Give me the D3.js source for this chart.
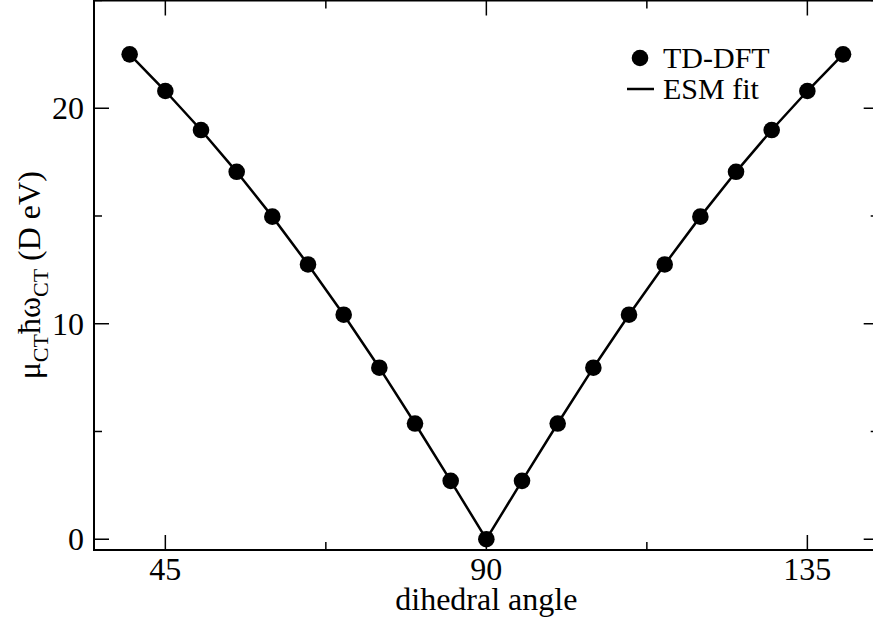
<!DOCTYPE html>
<html>
<head>
<meta charset="utf-8">
<script src="https://cdn.jsdelivr.net/npm/d3@7"></script>
<style>
  html, body { margin: 0; padding: 0; background: #fff; overflow: hidden; }
  svg { display: block; font-family: "Liberation Serif", "Times New Roman", serif; }
</style>
</head>
<body>
<div id="chart"></div>
<script>
// data
const angles = [40, 45, 50, 55, 60, 65, 70, 75, 80, 85, 90,
                95, 100, 105, 110, 115, 120, 125, 130, 135, 140];
const tddft = [22.50, 20.80, 18.99, 17.05, 14.97, 12.75, 10.42, 7.96, 5.37, 2.71, 0,
               2.71, 5.37, 7.96, 10.42, 12.75, 14.97, 17.05, 18.99, 20.80, 22.50];
const esmFit = [22.50, 20.80, 18.99, 17.05, 14.97, 12.75, 10.42, 7.96, 5.37, 2.71, 0,
                2.71, 5.37, 7.96, 10.42, 12.75, 14.97, 17.05, 18.99, 20.80, 22.50];
const xTicks = [45, 90, 135];
const xMinor = [67.5, 112.5];
const yTicks = [0, 10, 20];
const yMinor = [5, 15, 25];
const legendLabels = ["TD-DFT", "ESM fit"];

// the original figure is a bit wider than the window, its right edge is cut off
const width = 873;
const fullWidth = 880;
const height = 623;
const margin = { top: 0.5, right: 1.3, bottom: 73, left: 94 };
const innerWidth = fullWidth - margin.left - margin.right;
const innerHeight = height - margin.top - margin.bottom;

const svg = d3.select("#chart")
  .append("svg")
  .attr("width", width)
  .attr("height", height);

const g = svg.append("g")
  .attr("transform", `translate(${margin.left},${margin.top})`);

const x = d3.scaleLinear().domain([35, 145]).range([0, innerWidth]);
const y = d3.scaleLinear().domain([-0.5, 25]).range([innerHeight, 0]);

// ticks on all four sides, pointing inward
const majorLen = 15, minorLen = 8;
const tickG = g.append("g").attr("stroke", "#000").attr("stroke-width", 1.5);

function xTickMarks(vals, len) {
  vals.forEach(v => {
    tickG.append("line").attr("x1", x(v)).attr("x2", x(v))
      .attr("y1", innerHeight).attr("y2", innerHeight - len);
    tickG.append("line").attr("x1", x(v)).attr("x2", x(v))
      .attr("y1", 0).attr("y2", len);
  });
}
function yTickMarks(vals, len) {
  vals.forEach(v => {
    tickG.append("line").attr("y1", y(v)).attr("y2", y(v))
      .attr("x1", 0).attr("x2", len);
    tickG.append("line").attr("y1", y(v)).attr("y2", y(v))
      .attr("x1", innerWidth).attr("x2", innerWidth - len);
  });
}
xTickMarks(xTicks, majorLen);
xTickMarks(xMinor, minorLen);
yTickMarks(yTicks, majorLen);
yTickMarks(yMinor, minorLen);

// tick labels
g.append("g").selectAll("text")
  .data(xTicks)
  .join("text")
  .attr("x", d => x(d))
  .attr("y", innerHeight + 30)
  .attr("text-anchor", "middle")
  .attr("font-size", 32)
  .text(d => d);

g.append("g").selectAll("text")
  .data(yTicks)
  .join("text")
  .attr("x", -10)
  .attr("y", d => y(d))
  .attr("dy", "0.34em")
  .attr("text-anchor", "end")
  .attr("font-size", 32)
  .text(d => d);

// frame
g.append("rect")
  .attr("width", innerWidth)
  .attr("height", innerHeight)
  .attr("fill", "none")
  .attr("stroke", "#000")
  .attr("stroke-width", 2);

// axis titles
svg.append("text")
  .attr("x", margin.left + x(90))
  .attr("y", 610)
  .attr("text-anchor", "middle")
  .attr("font-size", 32)
  .text("dihedral angle");

const yTitle = svg.append("text")
  .attr("transform", `translate(40,${margin.top + innerHeight / 2}) rotate(-90)`)
  .attr("text-anchor", "middle")
  .attr("font-size", 32);
yTitle.append("tspan").text("\u03bc");
yTitle.append("tspan").attr("font-size", 22).attr("dy", 8).text("CT");
yTitle.append("tspan").attr("dy", -8).text("\u0127\u03c9");
yTitle.append("tspan").attr("font-size", 22).attr("dy", 8).text("CT");
yTitle.append("tspan").attr("dy", -8).text(" (D eV)");

// data
const fitPts = angles.map((a, i) => ({ a, v: esmFit[i] }));
const dftPts = angles.map((a, i) => ({ a, v: tddft[i] }));

const line = d3.line()
  .x(d => x(d.a))
  .y(d => y(d.v));

g.append("path")
  .datum(fitPts)
  .attr("fill", "none")
  .attr("stroke", "#000")
  .attr("stroke-width", 2.5)
  .attr("d", line);

g.append("g").selectAll("circle")
  .data(dftPts)
  .join("circle")
  .attr("cx", d => x(d.a))
  .attr("cy", d => y(d.v))
  .attr("r", 8.3)
  .attr("fill", "#000");

// legend
const leg = svg.append("g").attr("font-size", 30);
leg.append("circle").attr("cx", 640).attr("cy", 58).attr("r", 8.3).attr("fill", "#000");
leg.append("line").attr("x1", 627).attr("x2", 654).attr("y1", 89).attr("y2", 89)
  .attr("stroke", "#000").attr("stroke-width", 2.5);
leg.selectAll("text")
  .data(legendLabels)
  .join("text")
  .attr("x", 663)
  .attr("y", (d, i) => 68 + i * 31)
  .text(d => d);
</script>
</body>
</html>
